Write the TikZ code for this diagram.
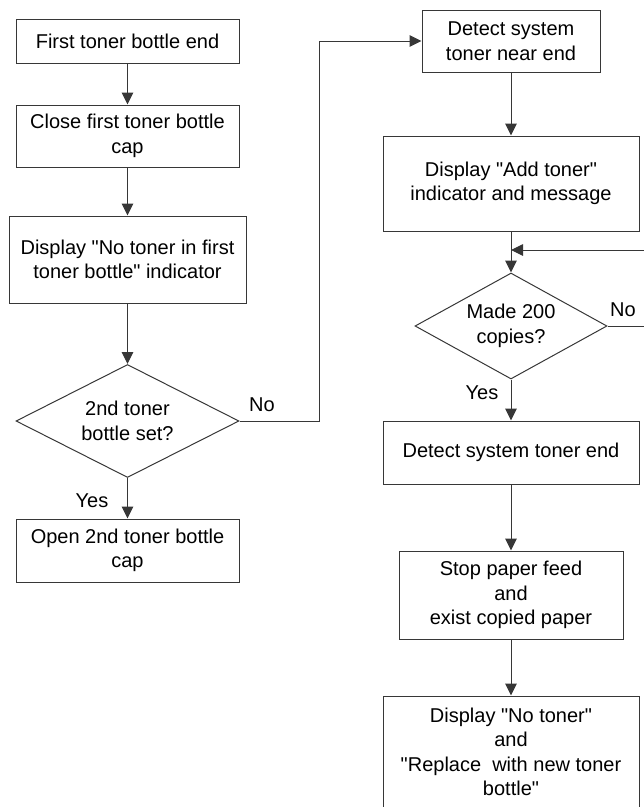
\documentclass[tikz,border=0pt]{standalone}
\usepackage{fontspec}
\setmainfont{Liberation Sans}[Ligatures=TeXOff]
\usetikzlibrary{arrows.meta,shapes.geometric}
\definecolor{ink}{RGB}{55,55,55}

\begin{document}
\begin{tikzpicture}[x=1pt,y=-1pt,
 every node/.style={font=\fontsize{20}{24.5}\selectfont,text=black},
 stepbox/.style={draw=ink,line width=1pt,align=center,inner sep=0pt},
 test/.style={diamond,aspect=2,draw=ink,line width=1pt,align=center,inner sep=0pt},
 flow/.style={ink,line width=1pt,-{Triangle[length=12pt,width=11.5pt]}},
 answer/.style={font=\fontsize{20}{24}\selectfont}]
 \useasboundingbox (0,0) rectangle (644,807);
 % first bottle branch
 \node[stepbox,minimum width=223pt,minimum height=44pt] (firstEnd) at (127.5,41)
      {First toner bottle end};
 \node[stepbox,minimum width=223pt,minimum height=62pt] (closeCap) at (127.5,136)
      {Close first toner bottle\\cap};
 \node[stepbox,minimum width=237pt,minimum height=87pt] (showEmpty) at (127.5,259.5)
      {Display "No toner in first\\toner bottle" indicator};
 \node[test,minimum width=223pt,minimum height=113pt] (secondSet) at (127.5,421)
      {2nd toner\\bottle set?};
 \node[stepbox,minimum width=223pt,minimum height=63pt] (openCap) at (127.5,550.5)
      {Open 2nd toner bottle\\cap};
 % system toner branch
 \node[stepbox,minimum width=178pt,minimum height=62pt] (nearEnd) at (511,41)
      {Detect system\\toner near end};
 \node[stepbox,minimum width=256pt,minimum height=95pt] (addToner) at (511,183.5)
      {Display "Add toner"\\indicator and message};
 \node[test,minimum width=192pt,minimum height=106pt] (copies) at (511,326)
      {Made 200\\copies?};
 \node[stepbox,minimum width=256pt,minimum height=63pt] (sysEnd) at (511,452.5)
      {Detect system toner end};
 \node[stepbox,minimum width=224pt,minimum height=88pt] (stopFeed) at (511,595)
      {Stop paper feed\\and\\exist copied paper};
 \node[stepbox,minimum width=256pt,minimum height=112pt] (replace) at (511,752)
      {Display "No toner"\\and\\"Replace~ with new toner\\bottle"};
 % answers
 \node[answer] (noLeft) at (262,405) {No};
 \node[answer] (yesLeft) at (92,501) {Yes};
 \node[answer] (noRight) at (623,310) {No};
 \node[answer] (yesRight) at (482,393) {Yes};
 % bends of the routed lines
 \coordinate (noBend) at (319,41);
 \coordinate (loopBend) at (660,250);
 \coordinate (merge) at (511,250);
 \draw[flow] (firstEnd.south) -- (closeCap.north);
 \draw[flow] (closeCap.south) -- (showEmpty.north);
 \draw[flow] (showEmpty.south) -- (secondSet.north);
 \draw[flow] (secondSet.south) -- (openCap.north);
 \draw[flow] (secondSet.east) -| (noBend) -- (nearEnd.west);
 \draw[flow] (nearEnd.south) -- (addToner.north);
 \draw[flow] (addToner.south) -- (copies.north);
 \draw[flow] (copies.east) -| (loopBend) -- (merge);
 \draw[flow] (copies.south) -- (sysEnd.north);
 \draw[flow] (sysEnd.south) -- (stopFeed.north);
 \draw[flow] (stopFeed.south) -- (replace.north);
\end{tikzpicture}
\end{document}
